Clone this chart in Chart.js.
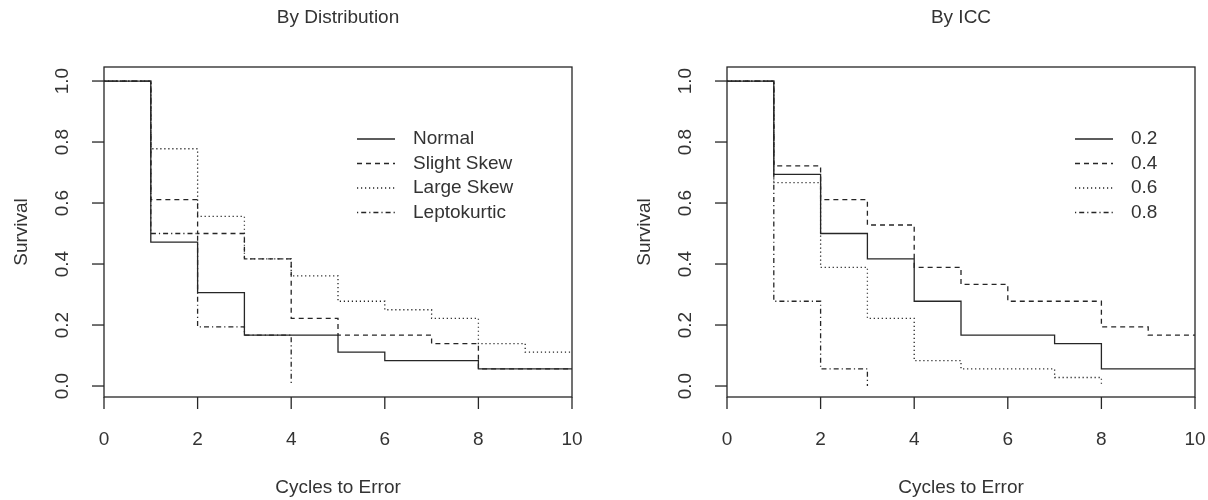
<!DOCTYPE html>
<html>
<head>
<meta charset="utf-8">
<script src="https://cdn.jsdelivr.net/npm/chart.js@4"></script>
<style>
  body { margin: 0; background: #fff; }
  .panel { position: absolute; top: 0; width: 604px; height: 500px; }
</style>
</head>
<body>
<div class="panel" style="left:0"><canvas id="distChart" width="604" height="500"></canvas></div>
<div class="panel" style="left:604px"><canvas id="iccChart" width="604" height="500"></canvas></div>
<script>
// cycles to error (shared step grid)
const cycles = [0, 1, 2, 3, 4, 5, 6, 7, 8, 9, 10];
const xTicks = [0, 2, 4, 6, 8, 10];
const yTicks = [0.0, 0.2, 0.4, 0.6, 0.8, 1.0];

// By Distribution
const distLabels = ['Normal', 'Slight Skew', 'Large Skew', 'Leptokurtic'];
const normalSurv = [1, 0.472, 0.306, 0.167, 0.167, 0.111, 0.083, 0.083, 0.056, 0.056, 0.056];
const slightSurv = [1, 0.611, 0.5, 0.417, 0.222, 0.167, 0.167, 0.139, 0.056, 0.056, 0.056];
const largeSurv = [1, 0.778, 0.556, 0.417, 0.361, 0.278, 0.25, 0.222, 0.139, 0.111, 0.111];
const leptoSurv = [1, 0.5, 0.194, 0.167, 0, null, null, null, null, null, null];

// By ICC
const iccLabels = ['0.2', '0.4', '0.6', '0.8'];
const icc02Surv = [1, 0.694, 0.5, 0.417, 0.278, 0.167, 0.167, 0.139, 0.056, 0.056, 0.056];
const icc04Surv = [1, 0.722, 0.611, 0.528, 0.389, 0.333, 0.278, 0.278, 0.194, 0.167, 0.167];
const icc06Surv = [1, 0.667, 0.389, 0.222, 0.083, 0.056, 0.056, 0.028, 0, null, null];
const icc08Surv = [1, 0.278, 0.056, 0, null, null, null, null, null, null, null];

const ink = '#262626';
const font = '19px "Liberation Sans", Arial, sans-serif';
const dashes = [[], [5, 4], [1.2, 2.8], [1.2, 3, 5, 3]];

function makeSets(labels, series) {
    return series.map((s, i) => ({
        label: labels[i],
        data: cycles.map((c, j) => ({ x: c, y: s[j] })),
        borderColor: ink,
        borderWidth: 1.3,
        borderDash: dashes[i],
        pointRadius: 0,
        stepped: true,
        spanGaps: false,
        fill: false
    }));
}

// draws the R style frame, axes, titles and legend
const rFrame = {
    id: 'rFrame',
    afterDraw(chart, args, opts) {
        const c = chart.ctx;
        const a = chart.chartArea;
        const xs = chart.scales.x;
        const ys = chart.scales.y;
        c.save();
        c.strokeStyle = ink;
        c.lineWidth = 1.3;
        c.setLineDash([]);
        c.strokeRect(a.left, a.top, a.right - a.left, a.bottom - a.top);

        c.fillStyle = '#333';
        c.font = font;
        c.textAlign = 'center';
        c.textBaseline = 'middle';

        // x axis
        xTicks.forEach(v => {
            const px = xs.getPixelForValue(v);
            c.beginPath();
            c.moveTo(px, a.bottom);
            c.lineTo(px, a.bottom + 12);
            c.stroke();
            c.fillText(String(v), px, a.bottom + 43);
        });
        c.fillText('Cycles to Error', (a.left + a.right) / 2, a.bottom + 91);

        // y axis
        yTicks.forEach(v => {
            const py = ys.getPixelForValue(v);
            c.beginPath();
            c.moveTo(a.left - 12, py);
            c.lineTo(a.left, py);
            c.stroke();
            c.save();
            c.translate(a.left - 41, py);
            c.rotate(-Math.PI / 2);
            c.fillText(v.toFixed(1), 0, 0);
            c.restore();
        });
        c.save();
        c.translate(a.left - 82, (a.top + a.bottom) / 2);
        c.rotate(-Math.PI / 2);
        c.fillText('Survival', 0, 0);
        c.restore();

        // title
        c.fillText(opts.title, (a.left + a.right) / 2, 18);

        // legend
        c.textAlign = 'left';
        chart.data.datasets.forEach((ds, i) => {
            const ly = opts.legendY + i * 24.5;
            c.setLineDash(ds.borderDash);
            c.beginPath();
            c.moveTo(opts.legendX, ly);
            c.lineTo(opts.legendX + 38, ly);
            c.stroke();
            c.setLineDash([]);
            c.fillText(ds.label, opts.legendX + 56, ly);
        });
        c.restore();
    }
};

function makeChart(id, labels, series, title, pad, legendX) {
    return new Chart(document.getElementById(id), {
        type: 'line',
        data: { datasets: makeSets(labels, series) },
        options: {
            responsive: false,
            animation: false,
            layout: { padding: pad },
            scales: {
                x: { type: 'linear', min: 0, max: 10, display: false },
                y: { type: 'linear', min: -0.036, max: 1.046, display: false }
            },
            plugins: {
                legend: { display: false },
                tooltip: { enabled: false },
                rFrame: { title: title, legendX: legendX, legendY: 139 }
            }
        },
        plugins: [rFrame]
    });
}

makeChart('distChart', distLabels, [normalSurv, slightSurv, largeSurv, leptoSurv],
    'By Distribution', { left: 104, right: 32, top: 67, bottom: 103 }, 357);
makeChart('iccChart', iccLabels, [icc02Surv, icc04Surv, icc06Surv, icc08Surv],
    'By ICC', { left: 123, right: 13, top: 67, bottom: 103 }, 1075 - 604);
</script>
</body>
</html>
